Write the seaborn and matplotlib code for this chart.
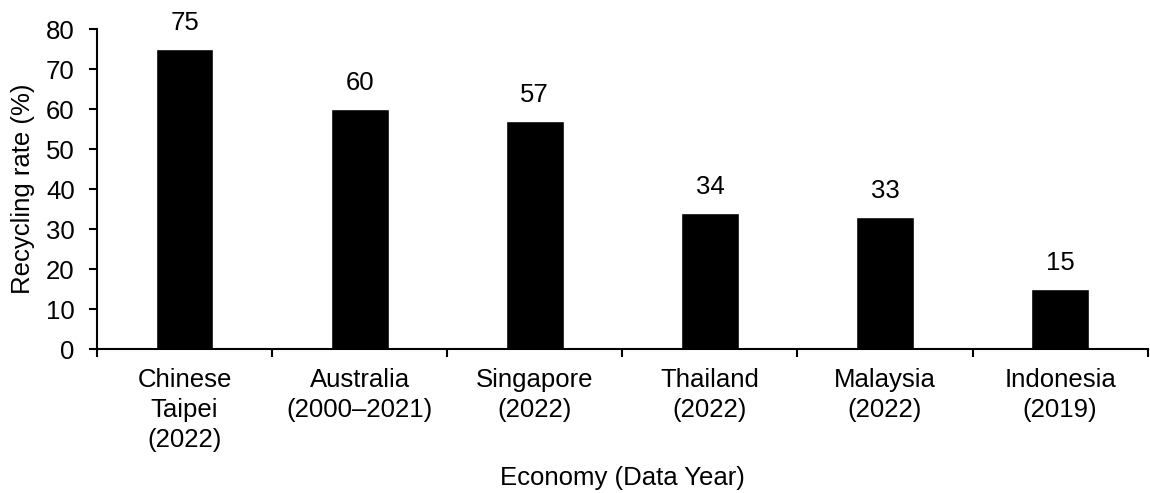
import matplotlib
matplotlib.use("Agg")
import matplotlib.pyplot as plt
from matplotlib.ticker import FixedLocator
import seaborn as sns
import pandas as pd

economies = ["Chinese\nTaipei\n(2022)", "Australia\n(2000\u20132021)", "Singapore\n(2022)",
             "Thailand\n(2022)", "Malaysia\n(2022)", "Indonesia\n(2019)"]
recycling_rate = [75, 60, 57, 34, 33, 15]

sns.set_theme(style="ticks")
plt.rcParams["font.family"] = ["Liberation Sans", "DejaVu Sans"]

df = pd.DataFrame({"economy": economies, "rate": recycling_rate})

fig = plt.figure(figsize=(11.5, 4.93), dpi=100)
ax = fig.add_axes([0.0843, 0.292, 0.9137, 0.649])

sns.barplot(data=df, x="economy", y="rate", color="black", width=0.33,
            saturation=1, ax=ax)

fs = 18.5
for i, v in enumerate(recycling_rate):
    ax.annotate(f"{v}", (i, v), xytext=(0, 10), textcoords="offset points",
                ha="center", va="bottom", fontsize=fs, color="black")

ax.set_ylim(0, 80)
ax.set_yticks(range(0, 81, 10))
ax.set_xlim(-0.5, len(economies) - 0.5)
ax.xaxis.set_minor_locator(FixedLocator([i - 0.5 for i in range(len(economies) + 1)]))
ax.tick_params(axis="x", which="major", length=0, labelsize=fs, pad=14, colors="black")
ax.tick_params(axis="x", which="minor", length=6, width=1.5, direction="out", color="black")
ax.tick_params(axis="y", length=6, width=1.5, labelsize=fs, colors="black", pad=10)
for lbl in ax.get_xticklabels():
    lbl.set_linespacing(1.3)

for side in ["top", "right"]:
    ax.spines[side].set_visible(False)
for side in ["left", "bottom"]:
    ax.spines[side].set_linewidth(1.5)
    ax.spines[side].set_color("black")

ax.set_ylabel("Recycling rate (%)", fontsize=fs, color="black", labelpad=8)
ax.set_xlabel("Economy (Data Year)", fontsize=fs, color="black", labelpad=10)

fig.savefig("out.png", dpi=100)
